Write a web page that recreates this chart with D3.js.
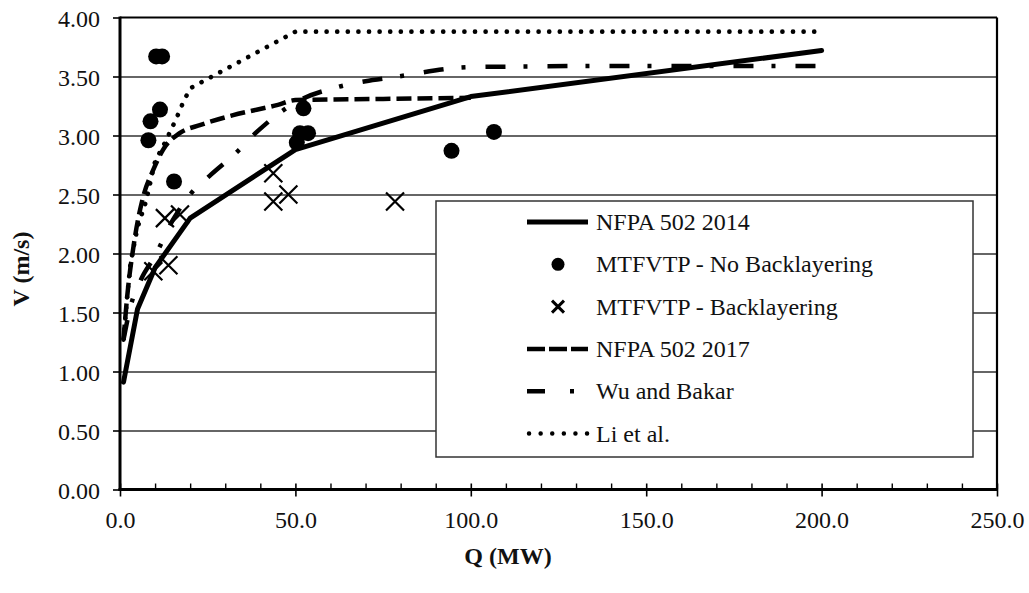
<!DOCTYPE html>
<html>
<head>
<meta charset="utf-8">
<script src="https://cdn.jsdelivr.net/npm/d3@7"></script>
<style>
  html, body { margin: 0; padding: 0; background: #fff; }
  svg { display: block; }
  svg text { font-family: "Liberation Serif", "Times New Roman", Tinos, "DejaVu Serif", serif !important; }
</style>
</head>
<body>
<svg id="chart" width="1029" height="593"></svg>
<script>
// ---------- data ----------
const xTicks = [0, 50, 100, 150, 200, 250];
const xMinorTicks = [10,20,30,40,60,70,80,90,110,120,130,140,160,170,180,190,210,220,230,240];
const yTicks = [0, 0.5, 1, 1.5, 2, 2.5, 3, 3.5, 4];

const nfpa2014Q = [1, 5, 10, 20, 50, 100, 200];
const nfpa2014V = [0.91, 1.53, 1.88, 2.30, 2.88, 3.33, 3.72];

const nfpa2017Q = [1, 2, 4, 6.6, 9.5, 12.3, 17, 23, 32, 45, 50, 75, 100];
const nfpa2017V = [1.27, 1.62, 2.09, 2.48, 2.71, 2.88, 3.02, 3.09, 3.17, 3.26, 3.30, 3.31, 3.32];

const wuQ = [1, 3, 6, 10, 15, 20, 26, 33, 39, 50, 62, 70, 77, 100, 150, 200];
const wuV = [1.27, 1.55, 1.78, 1.98, 2.28, 2.50, 2.67, 2.85, 3.03, 3.28, 3.41, 3.46, 3.49, 3.58, 3.59, 3.59];

const liQ = [1, 2, 3, 5, 7.5, 10, 13, 16, 18, 20, 50, 100, 150, 200];
const liV = [1.27, 1.62, 1.92, 2.22, 2.45, 2.78, 2.95, 3.14, 3.28, 3.40, 3.88, 3.88, 3.88, 3.88];

const noBackQ = [10.3, 12.0, 11.4, 8.7, 8.1, 15.4, 52.3, 51.3, 53.6, 50.4, 94.5, 106.6];
const noBackV = [3.67, 3.67, 3.22, 3.12, 2.96, 2.61, 3.23, 3.02, 3.02, 2.94, 2.87, 3.03];

const backQ = [12.8, 17.1, 43.7, 43.7, 48.0, 9.5, 13.8, 78.4];
const backV = [2.30, 2.33, 2.68, 2.44, 2.50, 1.85, 1.90, 2.44];

const legendLabels = ["NFPA 502 2014", "MTFVTP - No Backlayering", "MTFVTP - Backlayering",
                      "NFPA 502 2017", "Wu and Bakar", "Li et al."];

// ---------- layout ----------
const FONT = '"Liberation Serif", "Times New Roman", Tinos, "DejaVu Serif", serif';
const svg = d3.select("#chart");
const x = d3.scaleLinear().domain([0, 250]).range([120, 997]);
const y = d3.scaleLinear().domain([0, 4]).range([489.5, 17.5]);
const fontSize = 24;

const zip = (qs, vs) => qs.map((q, i) => [q, vs[i]]);

// gridlines
svg.append("g")
  .attr("transform", `translate(${x(0)},0)`)
  .call(d3.axisLeft(y).tickValues(yTicks.filter(v => v > 0 && v < 4)).tickSize(-(x(250) - x(0))).tickFormat(""))
  .call(g => g.select(".domain").remove())
  .call(g => g.selectAll("line").attr("stroke", "#333").attr("stroke-width", 1.4));

// frame top/right
svg.append("line").attr("x1", x(0)).attr("x2", x(250)).attr("y1", y(4)).attr("y2", y(4))
  .attr("stroke", "#000").attr("stroke-width", 2.2);
svg.append("line").attr("x1", x(250)).attr("x2", x(250)).attr("y1", y(4)).attr("y2", y(0))
  .attr("stroke", "#000").attr("stroke-width", 2.2);

// y axis
svg.append("g")
  .attr("transform", `translate(${x(0)},0)`)
  .attr("font-family", FONT)
  .call(d3.axisLeft(y).tickValues(yTicks).tickSize(7).tickPadding(13).tickFormat(d3.format(".2f")))
  .attr("font-family", FONT)
  .call(g => g.select(".domain").remove())
  .call(g => g.selectAll("line").attr("stroke", "#000").attr("stroke-width", 1.6))
  .call(g => g.selectAll("text").attr("font-size", fontSize).attr("fill", "#111")
      .style("font-family", FONT).attr("dy", "0.36em"));

// x axis: major outward ticks with labels
svg.append("g")
  .attr("transform", `translate(0,${y(0)})`)
  .call(d3.axisBottom(x).tickValues(xTicks).tickSize(7).tickPadding(14).tickFormat(d3.format(".1f")))
  .attr("font-family", FONT)
  .call(g => g.select(".domain").remove())
  .call(g => g.selectAll("line").attr("stroke", "#000").attr("stroke-width", 1.6))
  .call(g => g.selectAll("text").attr("font-size", fontSize).attr("fill", "#111")
      .style("font-family", FONT));
// major inward parts
svg.append("g")
  .attr("transform", `translate(0,${y(0)})`)
  .call(d3.axisBottom(x).tickValues(xTicks).tickSize(-6).tickFormat(""))
  .call(g => g.select(".domain").remove())
  .call(g => g.selectAll("line").attr("stroke", "#000").attr("stroke-width", 1.6));
// minor inward ticks
svg.append("g")
  .attr("transform", `translate(0,${y(0)})`)
  .call(d3.axisBottom(x).tickValues(xMinorTicks).tickSize(-6).tickFormat(""))
  .call(g => g.select(".domain").remove())
  .call(g => g.selectAll("line").attr("stroke", "#000").attr("stroke-width", 1.4));

// axis lines
svg.append("line").attr("x1", x(0)).attr("x2", x(0)).attr("y1", y(4) - 1).attr("y2", y(0) + 1.5)
  .attr("stroke", "#000").attr("stroke-width", 3);
svg.append("line").attr("x1", x(0) - 1.5).attr("x2", x(250) + 1).attr("y1", y(0)).attr("y2", y(0))
  .attr("stroke", "#000").attr("stroke-width", 3);

// axis titles
svg.append("text").attr("x", 508).attr("y", 564).attr("text-anchor", "middle")
  .style("font-family", FONT)
  .attr("font-size", fontSize).attr("font-weight", "bold").attr("fill", "#111").text("Q (MW)");
svg.append("text").attr("transform", "translate(29,269) rotate(-90)").attr("text-anchor", "middle")
  .style("font-family", FONT)
  .attr("font-size", fontSize).attr("font-weight", "bold").attr("fill", "#111").text("V (m/s)");

// ---------- series ----------
const lineLinear = d3.line().x(d => x(d[0])).y(d => y(d[1]));
const lineSmooth = d3.line().x(d => x(d[0])).y(d => y(d[1])).curve(d3.curveMonotoneX);

const styles = {
  nfpa2014: { w: 5, dash: null, cap: "round" },
  nfpa2017: { w: 4.5, dash: "15 6", cap: "butt" },
  wu: { w: 4.5, dash: "20 18 4 20", cap: "butt" },
  li: { w: 4.6, dash: "0.1 10.5", cap: "round" }
};

function drawLine(data, gen, st) {
  svg.append("path").datum(data).attr("d", gen)
    .attr("fill", "none").attr("stroke", "#000").attr("stroke-width", st.w)
    .attr("stroke-linecap", st.cap).attr("stroke-linejoin", "round")
    .attr("stroke-dasharray", st.dash);
}

drawLine(zip(liQ, liV), lineLinear, styles.li);
drawLine(zip(wuQ, wuV), lineSmooth, styles.wu);
drawLine(zip(nfpa2017Q, nfpa2017V), lineSmooth, styles.nfpa2017);
drawLine(zip(nfpa2014Q, nfpa2014V), lineLinear, styles.nfpa2014);

// scatter: no backlayering
svg.append("g").selectAll("circle").data(zip(noBackQ, noBackV)).join("circle")
  .attr("cx", d => x(d[0])).attr("cy", d => y(d[1])).attr("r", 8).attr("fill", "#000");

// scatter: backlayering
function cross(g, cx, cy, s, w) {
  g.append("path").attr("d", `M${cx - s},${cy - s}L${cx + s},${cy + s}M${cx - s},${cy + s}L${cx + s},${cy - s}`)
    .attr("stroke", "#000").attr("stroke-width", w).attr("fill", "none");
}
const bg = svg.append("g");
zip(backQ, backV).forEach(d => cross(bg, x(d[0]), y(d[1]), 9, 2.2));

// ---------- legend ----------
const lg = svg.append("g");
lg.append("rect").attr("x", 436).attr("y", 201).attr("width", 537).attr("height", 256)
  .attr("fill", "#fff").attr("stroke", "#333").attr("stroke-width", 1.5);
const lx1 = 527, lx2 = 588, tx = 596;
const base0 = 230, step = 42.3;
legendLabels.forEach((lab, i) => {
  const by = base0 + i * step;
  const cy = by - 8;
  lg.append("text").attr("x", tx).attr("y", by).style("font-family", FONT)
    .attr("font-size", fontSize).attr("fill", "#111").text(lab);
  if (i === 0) {
    lg.append("line").attr("x1", lx1).attr("x2", lx2).attr("y1", cy).attr("y2", cy)
      .attr("stroke", "#000").attr("stroke-width", 5);
  } else if (i === 1) {
    lg.append("circle").attr("cx", 558).attr("cy", cy).attr("r", 6.5).attr("fill", "#000");
  } else if (i === 2) {
    cross(lg, 558, cy, 6, 3);
  } else if (i === 3) {
    lg.append("line").attr("x1", lx1).attr("x2", lx2).attr("y1", cy).attr("y2", cy)
      .attr("stroke", "#000").attr("stroke-width", 4.5).attr("stroke-dasharray", "18 4");
  } else if (i === 4) {
    lg.append("line").attr("x1", lx1).attr("x2", lx2).attr("y1", cy).attr("y2", cy)
      .attr("stroke", "#000").attr("stroke-width", 4.5).attr("stroke-dasharray", "18 25 4 60");
  } else {
    lg.append("line").attr("x1", lx1 + 2).attr("x2", lx2).attr("y1", cy).attr("y2", cy)
      .attr("stroke", "#000").attr("stroke-width", 4.4).attr("stroke-linecap", "round")
      .attr("stroke-dasharray", "0.1 11.5");
  }
});
</script>
</body>
</html>
